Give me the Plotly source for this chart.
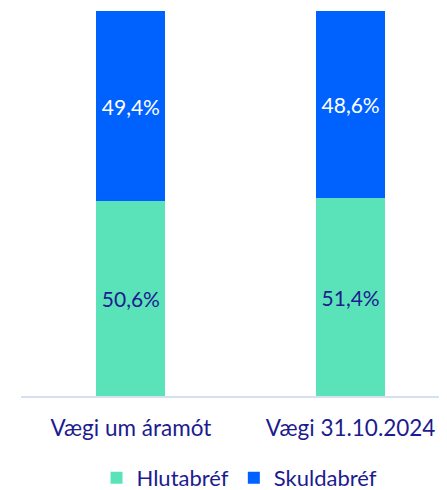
import plotly.graph_objects as go

categories = ["Vægi um áramót", "Vægi 31.10.2024"]
hlutabref = [50.6, 51.4]
skuldabref = [49.4, 48.6]
series_names = ["Hlutabréf", "Skuldabréf"]

navy = "#1c1c8f"
green = "#5ae3b9"
blue = "#0062fe"
font_family = "Lato, 'Open Sans', sans-serif"

def fmt(v):
    return f"{v:.1f}".replace(".", ",") + "%"

fig = go.Figure()
fig.add_trace(go.Bar(
    x=[0, 1], y=hlutabref, name=series_names[0], marker=dict(color=green, line=dict(width=0)),
    width=0.314, text=[fmt(v) for v in hlutabref], textposition="inside", insidetextanchor="middle",
    textfont=dict(color=navy, size=21, family=font_family), hoverinfo="skip"))
fig.add_trace(go.Bar(
    x=[0, 1], y=skuldabref, name=series_names[1], marker=dict(color=blue, line=dict(width=0)),
    width=0.314, text=[fmt(v) for v in skuldabref], textposition="inside", insidetextanchor="middle",
    textfont=dict(color="white", size=21, family=font_family), hoverinfo="skip"))

fig.update_layout(
    barmode="stack",
    width=439, height=482,
    margin=dict(l=12.5, r=0, t=3, b=94, autoexpand=False),
    paper_bgcolor="white", plot_bgcolor="white",
    font=dict(family=font_family, color=navy, size=18),
    showlegend=True,
    legend=dict(orientation="h", x=0.513, xanchor="center", y=-0.213, yanchor="middle",
                font=dict(size=22, color=navy, family=font_family), itemwidth=30,
                traceorder="normal"),
    uniformtext=dict(minsize=8, mode="show"),
)
fig.update_xaxes(range=[-0.5, 1.4386], tickvals=[0, 1], ticktext=categories,
                 showline=True, linecolor="#d6e0f5", linewidth=2, showgrid=False,
                 zeroline=False, ticks="", tickfont=dict(size=22.5, color=navy),
                 ticklabelstandoff=11, automargin=False, fixedrange=True)
fig.update_yaxes(range=[0, 100], visible=False, showgrid=False, zeroline=False,
                 automargin=False, fixedrange=True)

fig.write_html("out.html")
